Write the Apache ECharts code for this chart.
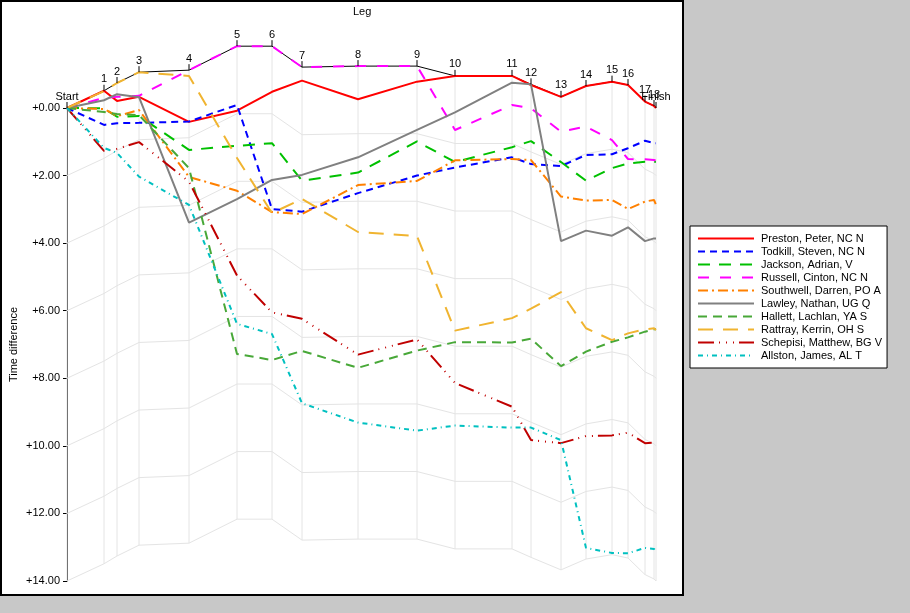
<!DOCTYPE html>
<html>
<head>
<meta charset="utf-8" />
<title>Time difference by leg</title>
<script src="https://cdn.jsdelivr.net/npm/echarts@6.0.0/dist/echarts.min.js"></script>
<style>
  html, body { margin: 0; padding: 0; background: #c8c8c8; }
  #main { width: 910px; height: 613px; }
</style>
</head>
<body>
<div id="main"></div>
<script type="text/javascript">
// legs (x = cumulative leg position)
var legNames = ['Start', '1', '2', '3', '4', '5', '6', '7', '8', '9', '10',
                '11', '12', '13', '14', '15', '16', '17', '18', 'Finish'];
var legPos = [0, 3.7, 5.0, 7.2, 12.2, 17.0, 20.5, 23.5, 29.1, 35.0, 38.8,
              44.5, 46.4, 49.4, 51.9, 54.5, 56.1, 57.8, 58.7, 58.9];

// time difference per leg, one array per runner
var preston   = [0, -0.51, -0.21, -0.33, 0.41, 0.08, -0.48, -0.81, -0.26, -0.78, -0.95, -0.95, -0.68, -0.33, -0.65, -0.78, -0.68, -0.19, -0.06, 0.00];
var todkill   = [0, 0.50, 0.45, 0.44, 0.40, -0.09, 2.99, 3.07, 2.52, 2.00, 1.76, 1.46, 1.66, 1.72, 1.39, 1.37, 1.19, 0.97, 1.04, 1.04];
var jackson   = [0, 0.01, 0.26, 0.24, 1.24, 1.12, 1.04, 2.15, 1.91, 0.99, 1.60, 1.16, 0.98, 1.60, 2.15, 1.78, 1.64, 1.59, 1.59, 1.59];
var russell   = [0, -0.30, -0.33, -0.36, -1.12, -1.83, -1.83, -1.21, -1.24, -1.24, 0.65, -0.09, 0.01, 0.70, 0.55, 0.95, 1.51, 1.52, 1.54, 1.56];
var southwell = [0, 0.03, 0.24, 0.06, 2.04, 2.45, 3.08, 3.14, 2.28, 2.16, 1.55, 1.51, 1.54, 2.62, 2.74, 2.72, 2.99, 2.77, 2.72, 2.87];
var lawley    = [0, -0.23, -0.41, -0.32, 3.39, 2.70, 2.13, 1.98, 1.46, 0.65, 0.13, -0.75, -0.70, 3.94, 3.63, 3.78, 3.53, 3.94, 3.86, 3.86];
var hallett   = [0, 0.12, 0.18, 0.21, 1.78, 7.28, 7.46, 7.19, 7.69, 7.18, 6.93, 6.94, 6.83, 7.64, 7.21, 6.92, 6.79, 6.62, 6.55, 6.55];
var rattray   = [0, -0.50, -0.74, -1.06, -0.95, 1.48, 3.11, 2.69, 3.67, 3.79, 6.59, 6.22, 5.94, 5.45, 6.52, 6.87, 6.67, 6.55, 6.52, 6.57];
var schepisi  = [0, 1.27, 1.21, 1.01, 2.18, 4.96, 6.05, 6.24, 7.30, 6.85, 8.14, 8.84, 9.83, 9.92, 9.71, 9.69, 9.61, 9.92, 9.90, 9.92];
var allston   = [0, 1.18, 1.33, 2.03, 2.87, 6.39, 6.69, 8.74, 9.31, 9.55, 9.40, 9.46, 9.46, 9.83, 13.02, 13.17, 13.18, 13.02, 13.05, 13.12];

var runnerNames = ['Preston, Peter, NC N', 'Todkill, Steven, NC N', 'Jackson, Adrian, V',
                   'Russell, Cinton, NC N', 'Southwell, Darren, PO A', 'Lawley, Nathan, UG Q',
                   'Hallett, Lachlan, YA S', 'Rattray, Kerrin, OH S', 'Schepisi, Matthew, BG V',
                   'Allston, James, AL T'];
var runnerData = [preston, todkill, jackson, russell, southwell, lawley, hallett, rattray, schepisi, allston];

// y axis ticks
var yMin = 0, yMax = 14, yStep = 2;

var colors = ['#ff0000', '#0000ff', '#00c000', '#ff00ff', '#ff8000',
              '#808080', '#48a838', '#f0b430', '#c00000', '#00c0c0'];
var dashes = ['solid', [7, 5], [12, 9], [11, 11], [10, 4, 2, 4],
              'solid', [9, 6], [15, 10], [16, 5, 1, 6, 1, 6, 1, 5], [5, 4, 1, 4]];

var myChart = echarts.init(document.getElementById('main'));

// best (lowest) value at each leg
var best = legPos.map(function (x, i) {
    return Math.min.apply(null, runnerData.map(function (d) { return d[i]; }));
});

function pairs(vals) {
    return legPos.map(function (x, i) { return [x, vals[i]]; });
}

var font = 'Liberation Sans, Arial, sans-serif';
var series = [];

// light guide lines parallel to the best line
for (var k = 1; k <= 7; k++) {
    series.push({
        type: 'line',
        data: pairs(best.map(function (b) { return b + yStep * k; })),
        symbol: 'none',
        clip: false,
        silent: true,
        z: 1,
        lineStyle: { color: '#e4e4e4', width: 1 }
    });
}

// vertical leg lines
series.push({
    type: 'custom',
    data: pairs(best),
    clip: false,
    silent: true,
    z: 1,
    renderItem: function (params, api) {
        var x = api.value(0), b = api.value(1);
        var p0 = api.coord([x, b]);
        var p1 = api.coord([x, b + yMax]);
        return {
            type: 'line',
            shape: { x1: p0[0], y1: p0[1], x2: p1[0], y2: p1[1] },
            style: { stroke: '#e4e4e4', lineWidth: 1 }
        };
    }
});

// best line
series.push({
    type: 'line',
    data: pairs(best),
    symbol: 'none',
    clip: false,
    silent: true,
    z: 2,
    lineStyle: { color: '#000', width: 1 }
});

runnerNames.forEach(function (name, i) {
    series.push({
        name: name,
        type: 'line',
        data: pairs(runnerData[i]),
        symbol: 'none',
        clip: false,
        z: 3,
        color: colors[i],
        lineStyle: { color: colors[i], width: 2, type: dashes[i] }
    });
});

// leg ticks and names above the best line
series.push({
    type: 'custom',
    data: pairs(best),
    clip: false,
    silent: true,
    z: 5,
    renderItem: function (params, api) {
        var p = api.coord([api.value(0), api.value(1)]);
        return {
            type: 'group',
            children: [{
                type: 'line',
                shape: { x1: p[0], y1: p[1], x2: p[0], y2: p[1] - 6 },
                style: { stroke: '#000', lineWidth: 1 }
            }, {
                type: 'text',
                style: {
                    text: legNames[params.dataIndex],
                    x: p[0], y: p[1] - 6,
                    textAlign: 'center', textVerticalAlign: 'bottom',
                    fontSize: 11, fontFamily: font, fill: '#000'
                }
            }]
        };
    }
});

var option = {
    animation: false,
    textStyle: { fontFamily: font },
    graphic: [{
        type: 'rect',
        z: -10,
        silent: true,
        shape: { x: 1, y: 1, width: 682, height: 594 },
        style: { fill: '#fff', stroke: '#000', lineWidth: 2 }
    }],
    title: {
        text: 'Leg',
        left: 353, top: 6, padding: 0,
        textStyle: { fontSize: 11, fontWeight: 'normal', color: '#000', fontFamily: font }
    },
    legend: {
        data: runnerNames,
        orient: 'vertical',
        left: 690, top: 226,
        padding: [7, 5, 7, 7],
        itemGap: 2,
        itemWidth: 56,
        itemHeight: 11,
        selectedMode: false,
        backgroundColor: '#fff',
        borderColor: '#000',
        borderWidth: 1,
        itemStyle: { opacity: 0 },
        textStyle: { fontSize: 11, color: '#000', fontFamily: font, padding: [0, 0, 0, 2] }
    },
    grid: { left: 67, right: 254, top: 108, bottom: 32, outerBoundsMode: 'none' },
    xAxis: {
        type: 'value',
        min: 0,
        max: legPos[legPos.length - 1],
        show: false
    },
    yAxis: {
        type: 'value',
        inverse: true,
        min: yMin, max: yMax, interval: yStep,
        name: 'Time difference',
        nameLocation: 'middle',
        nameRotate: 90,
        nameGap: 48,
        nameMoveOverlap: false,
        nameTextStyle: { fontSize: 11, color: '#000', fontFamily: font },
        axisLine: { show: true, lineStyle: { color: '#000', width: 1 } },
        axisTick: { show: true, length: 4, lineStyle: { color: '#000' } },
        axisLabel: {
            fontSize: 11, color: '#000', margin: 7, fontFamily: font,
            formatter: function (v) { return '+' + v.toFixed(2); }
        },
        splitLine: { show: false }
    },
    series: series
};

myChart.setOption(option);
</script>
</body>
</html>
